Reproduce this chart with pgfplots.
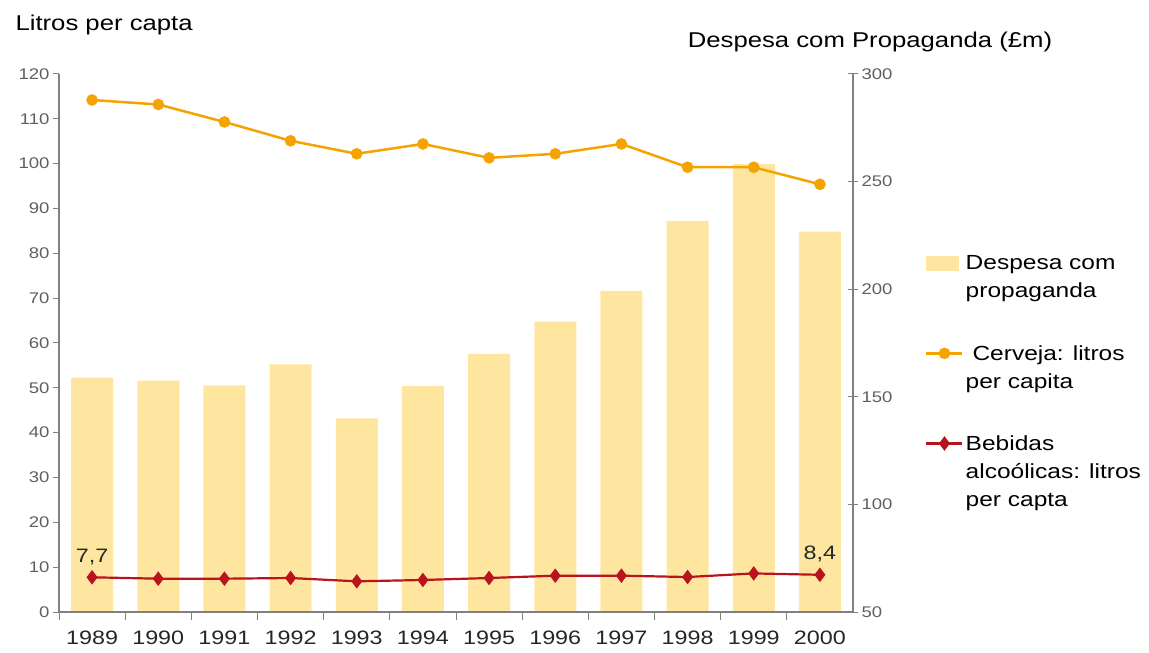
\documentclass[border=0pt]{standalone}
\usepackage{fontspec}
\setmainfont{Liberation Sans}[FakeStretch=1.2]
\usepackage{pgfplots}
\pgfplotsset{compat=1.18}
\definecolor{barfill}{RGB}{255,230,160}
\definecolor{beer}{RGB}{245,163,0}
\definecolor{alco}{RGB}{185,20,30}
\definecolor{axisgray}{RGB}{128,128,128}
\definecolor{ticktext}{RGB}{95,95,95}
\pgfplotsset{
  base/.style={
    scale only axis, width=794bp, height=538bp,
    xmin=-0.5, xmax=11.5,
    /pgf/number format/assume math mode=true,
    axis line style={axisgray, line width=1.2bp},
    every tick/.style={axisgray, line width=1bp},
    tick label style={font=\fontsize{15.5}{18}\selectfont, text=ticktext},
  },
  legline/.style={legend image code/.code={%
    \draw[mark repeat=2,mark phase=2,##1] plot coordinates {(0bp,0bp) (18bp,0bp) (36bp,0bp)};}},
  legbar/.style={legend image code/.code={%
    \fill[barfill] (0bp,7bp) rectangle (32bp,21bp);}},
}

\begin{document}
\begin{tikzpicture}
% right axis: advertising spend (bars)
\begin{axis}[base,
  axis y line*=right, axis x line=none,
  ymin=50, ymax=300, ytick={50,100,...,300},
  major tick length=10bp, tick align=center,
  ybar, bar width=42bp,
]
\addplot[fill=barfill, draw=none] coordinates {
  (0,158.9) (1,157.5) (2,155.3) (3,165.1) (4,140.0) (5,155.0)
  (6,169.9) (7,184.9) (8,199.2) (9,231.8) (10,258.2) (11,226.7)};
\end{axis}
% left axis: litres per capita (lines)
\begin{axis}[base,
  axis y line*=left, axis x line*=bottom,
  ymin=0, ymax=120, ytick={0,10,...,120},
  xtick={0,...,11},
  xticklabels={1989,1990,1991,1992,1993,1994,1995,1996,1997,1998,1999,2000},
  minor xtick={-0.5,0.5,...,10.5},
  tick align=outside, major tick length=6bp, minor tick length=8bp,
  major x tick style={draw=none},
  xticklabel style={font=\fontsize{19.5}{22}\selectfont, text=black!85, yshift=-9bp},
  legend style={at={(1.0907,0.666)}, anchor=north west, draw=none, fill=none,
    font=\fontsize{20.5}{28}\selectfont, inner sep=0pt,
    cells={anchor=west, align=left}, row sep=42bp},
]
\addlegendimage{legbar}
\addlegendentry{Despesa com\\propaganda}
\addplot[beer, line width=2.5bp, mark=*, mark size=4.5bp, legline,
  legend image post style={yshift=14bp}]
  coordinates {
  (0,114.2) (1,113.2) (2,109.3) (3,105.1) (4,102.2) (5,104.4)
  (6,101.3) (7,102.2) (8,104.4) (9,99.2) (10,99.2) (11,95.4)};
\addlegendentry{\ Cerveja: litros\\per capita}
\addplot[alco, line width=2.2bp, mark=diamond*, mark size=5.5bp, legline,
  legend image post style={yshift=28bp},
  nodes near coords, point meta=explicit symbolic,
  nodes near coords style={font=\fontsize{19.5}{22}\selectfont, text=black!85, anchor=south, yshift=8bp}]
  coordinates {
  (0,7.74)[7,7] (1,7.43)[] (2,7.43)[] (3,7.58)[] (4,6.84)[] (5,7.14)[]
  (6,7.58)[] (7,8.1)[] (8,8.1)[] (9,7.8)[] (10,8.6)[] (11,8.3)[8,4]};
\addlegendentry{Bebidas\\alcoólicas: litros\\per capta}
\end{axis}
\node[anchor=base west, font=\fontsize{21.5}{26}\selectfont] at (-47bp,581bp) {Litros per capta};
\node[anchor=base, font=\fontsize{21.5}{26}\selectfont] at (811bp,564bp) {Despesa com Propaganda (£m)};
\pgfresetboundingbox
\path (-59bp,-41bp) rectangle (1090bp,612bp);
\end{tikzpicture}
\end{document}
